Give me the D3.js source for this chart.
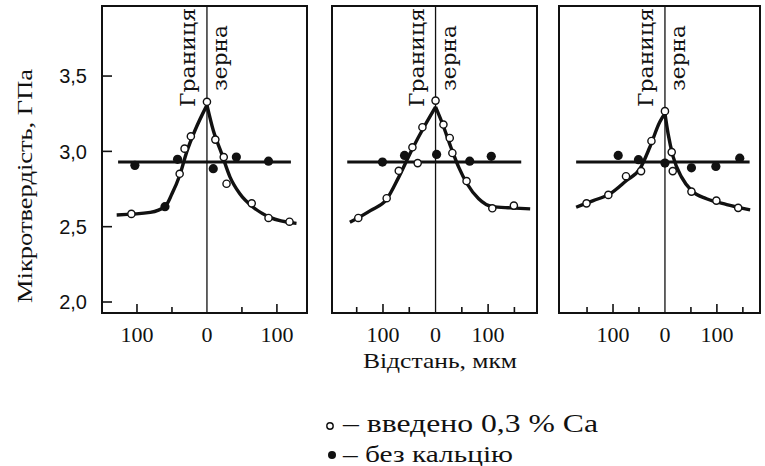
<!DOCTYPE html>
<html>
<head>
<meta charset="utf-8">
<script src="https://cdn.jsdelivr.net/npm/d3@7"></script>
<style>
  body { margin: 0; background: #fff; }
</style>
</head>
<body>
<script>
// values (distance in um, hardness in GPa)
const yTicks = [2.0, 2.5, 3.0, 3.5];
const yTickLabels = ['2,0', '2,5', '3,0', '3,5'];
const xTicks = [-150, -100, -50, 0, 50, 100, 150];
const xLabelTicks = [-100, 0, 100];
const xDomains = [[-150, 143], [-197, 193], [-204, 183]];

const flatLevel = [2.929, 2.929, 2.929];
const flatRange = [[-127, 120], [-168, 163], [-171, 163]];

const open1 = [[-108, 2.585], [-39, 2.851], [-32, 3.018], [-23, 3.10], [0, 3.329], [12, 3.078],
               [24, 2.962], [28, 2.785], [64, 2.655], [88, 2.558], [118, 2.533]];
const filled1 = [[-103, 2.907], [-60, 2.633], [-42, 2.947], [9, 2.885], [42, 2.962], [88, 2.935]];
const fit1 = [[-129, 2.578], [-81, 2.595], [-60, 2.633], [-50, 2.718], [-39, 2.84], [-29, 2.995],
              [-17, 3.14], [0, 3.307], [9, 3.14], [21, 2.985], [33, 2.829], [47, 2.718],
              [66, 2.629], [90, 2.562], [128, 2.522]];

const open2 = [[-147, 2.558], [-93, 2.689], [-70, 2.871], [-44, 3.027], [-25, 3.16], [0, 3.337],
               [15, 3.178], [27, 3.089], [32, 2.989], [-34, 2.922], [59, 2.803], [108, 2.622], [149, 2.64]];
const filled2 = [[-101, 2.929], [-59, 2.973], [2, 2.98], [65, 2.935], [106, 2.967]];
const fit2 = [[-163, 2.529], [-124, 2.607], [-93, 2.682], [-70, 2.829], [-44, 3.018], [-22, 3.162],
              [0, 3.295], [13, 3.185], [29, 3.029], [44, 2.895], [60, 2.785], [82, 2.685],
              [108, 2.633], [143, 2.625], [180, 2.618]];

const open3 = [[-151, 2.655], [-109, 2.711], [-75, 2.835], [-46, 2.869], [-26, 3.069], [0, 3.267],
               [13, 2.995], [15, 2.869], [51, 2.733], [99, 2.673], [141, 2.625]];
const filled3 = [[-90, 2.973], [-51, 2.945], [0, 2.922], [51, 2.891], [98, 2.9], [144, 2.955]];
const fit3 = [[-171, 2.629], [-138, 2.673], [-106, 2.718], [-74, 2.807], [-48, 2.885], [-29, 3.029],
              [-10, 3.195], [0, 3.251], [6, 3.118], [16, 2.962], [32, 2.829], [51, 2.74],
              [80, 2.685], [119, 2.647], [164, 2.611]];

const panels = [
  {open: open1, filled: filled1, fit: fit1},
  {open: open2, filled: filled2, fit: fit2},
  {open: open3, filled: filled3, fit: fit3}
];

const serif = '"Liberation Serif", "Times New Roman", serif';
const sans = '"Liberation Sans", Arial, sans-serif';
const slab = '"DejaVu Serif", "Courier New", serif';

const width = 765, height = 466;
const plotTop = 6, plotBottom = 313;
const lefts = [102, 332, 559];
const rights = [307, 537, 760];

const svg = d3.select('body')
              .append('svg')
              .attr('width', width)
              .attr('height', height);

const y = d3.scaleLinear().domain([1.927, 3.965]).range([plotBottom, plotTop]);

const line = d3.line()
               .curve(d3.curveMonotoneX);

panels.forEach((p, i) => {
    const x = d3.scaleLinear().domain(xDomains[i]).range([lefts[i], rights[i]]);
    const g = svg.append('g');
    line.x(d => x(d[0])).y(d => y(d[1]));

    // bottom ticks, pointing inwards
    g.selectAll('.xtick')
     .data(xTicks.filter(t => t > xDomains[i][0] + 5 && t < xDomains[i][1] - 5 && t !== 0))
     .enter()
     .append('line')
     .attr('x1', d => x(d)).attr('x2', d => x(d))
     .attr('y1', plotBottom).attr('y2', d => plotBottom - (Math.abs(d) === 100 ? 9 : 6))
     .attr('stroke', '#111').attr('stroke-width', 1.6);

    g.selectAll('.xlabel')
     .data(xLabelTicks)
     .enter()
     .append('text')
     .attr('x', d => x(d))
     .attr('y', 342)
     .attr('text-anchor', 'middle')
     .style('font-family', serif)
     .style('font-size', '22px')
     .attr('fill', '#111')
     .text(d => Math.abs(d));

    // grain boundary
    g.append('line')
     .attr('x1', x(0)).attr('x2', x(0))
     .attr('y1', plotTop).attr('y2', plotBottom)
     .attr('stroke', '#111').attr('stroke-width', 1.3);

    g.append('text')
     .attr('transform', `translate(${x(0) - 12},107) rotate(-90)`)
     .attr('textLength', 99).attr('lengthAdjust', 'spacingAndGlyphs')
     .style('font-family', slab).style('font-size', '21px')
     .attr('fill', '#111')
     .text('Границя');
    g.append('text')
     .attr('transform', `translate(${x(0) + 20},91) rotate(-90)`)
     .attr('textLength', 66).attr('lengthAdjust', 'spacingAndGlyphs')
     .style('font-family', slab).style('font-size', '21px')
     .attr('fill', '#111')
     .text('зерна');

    // without Ca: flat line
    g.append('line')
     .attr('x1', x(flatRange[i][0])).attr('x2', x(flatRange[i][1]))
     .attr('y1', y(flatLevel[i])).attr('y2', y(flatLevel[i]))
     .attr('stroke', '#111').attr('stroke-width', 3);

    // with Ca: fitted peak, drawn as two branches so the top stays sharp
    const peak = d3.maxIndex(p.fit, d => d[1]);
    [p.fit.slice(0, peak + 1), p.fit.slice(peak)].forEach(branch => {
        g.append('path')
         .attr('d', line(branch))
         .attr('fill', 'none')
         .attr('stroke', '#111')
         .attr('stroke-width', 3.4);
    });

    g.selectAll('.filled')
     .data(p.filled)
     .enter()
     .append('circle')
     .attr('cx', d => x(d[0])).attr('cy', d => y(d[1]))
     .attr('r', 4.6)
     .attr('fill', '#111');

    g.selectAll('.open')
     .data(p.open)
     .enter()
     .append('circle')
     .attr('cx', d => x(d[0])).attr('cy', d => y(d[1]))
     .attr('r', 3.6)
     .attr('fill', '#fff')
     .attr('stroke', '#111')
     .attr('stroke-width', 1.4);

    // frame
    g.append('rect')
     .attr('x', lefts[i]).attr('y', plotTop)
     .attr('width', rights[i] - lefts[i]).attr('height', plotBottom - plotTop)
     .attr('fill', 'none')
     .attr('stroke', '#111').attr('stroke-width', 2);
});

// y axis on the first panel only
const yAxis = svg.append('g');
yAxis.selectAll('line')
     .data(yTicks)
     .enter()
     .append('line')
     .attr('x1', lefts[0]).attr('x2', lefts[0] + 10)
     .attr('y1', d => y(d)).attr('y2', d => y(d))
     .attr('stroke', '#111').attr('stroke-width', 1.6);
yAxis.selectAll('text')
     .data(yTicks)
     .enter()
     .append('text')
     .attr('x', 87)
     .attr('y', d => y(d))
     .attr('dy', '0.36em')
     .attr('text-anchor', 'end')
     .style('font-family', sans)
     .style('font-size', '20px')
     .attr('fill', '#111')
     .text((d, i) => yTickLabels[i]);

svg.append('text')
   .attr('transform', 'translate(32,186) rotate(-90)')
   .attr('text-anchor', 'middle')
   .attr('textLength', 234).attr('lengthAdjust', 'spacingAndGlyphs')
   .style('font-family', serif).style('font-size', '22px')
   .attr('fill', '#111')
   .text('Мікротвердість, ГПа');

svg.append('text')
   .attr('x', 440).attr('y', 368)
   .attr('text-anchor', 'middle')
   .attr('textLength', 154).attr('lengthAdjust', 'spacingAndGlyphs')
   .style('font-family', serif).style('font-size', '21px')
   .attr('fill', '#111')
   .text('Відстань, мкм');

// legend
svg.append('circle')
   .attr('cx', 330).attr('cy', 426).attr('r', 3.2)
   .attr('fill', '#fff').attr('stroke', '#111').attr('stroke-width', 1.4);
svg.append('text')
   .attr('x', 343).attr('y', 432)
   .attr('textLength', 255).attr('lengthAdjust', 'spacingAndGlyphs')
   .style('font-family', serif).style('font-size', '25px')
   .attr('fill', '#111')
   .text('– введено 0,3 % Ca');
svg.append('circle')
   .attr('cx', 332).attr('cy', 455).attr('r', 4)
   .attr('fill', '#111');
svg.append('text')
   .attr('x', 343).attr('y', 462)
   .attr('textLength', 170).attr('lengthAdjust', 'spacingAndGlyphs')
   .style('font-family', serif).style('font-size', '23px')
   .attr('fill', '#111')
   .text('– без кальцію');
</script>
</body>
</html>
